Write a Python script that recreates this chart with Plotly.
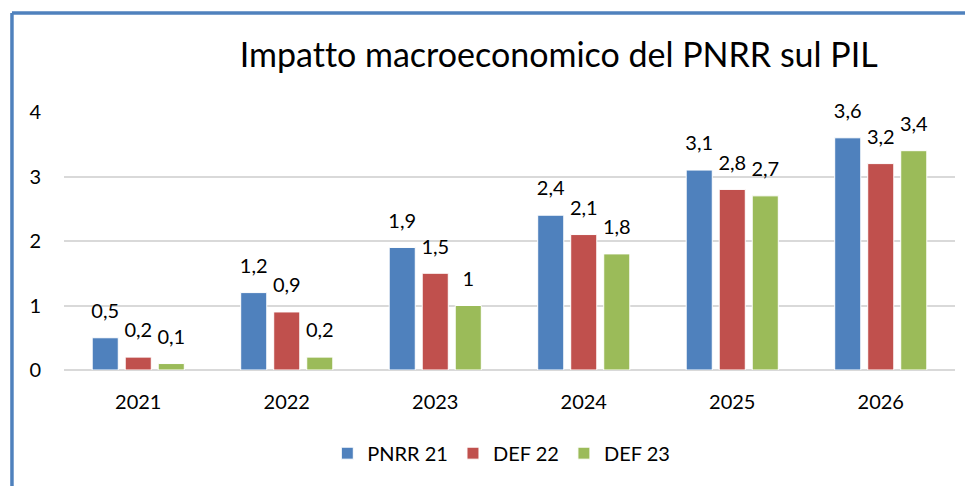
import plotly.graph_objects as go

# data
years = ["2021", "2022", "2023", "2024", "2025", "2026"]
pnrr_21 = [0.5, 1.2, 1.9, 2.4, 3.1, 3.6]
def_22 = [0.2, 0.9, 1.5, 2.1, 2.8, 3.2]
def_23 = [0.1, 0.2, 1.0, 1.8, 2.7, 3.4]
y_ticks = [0, 1, 2, 3, 4]

series = [
    ("PNRR 21", pnrr_21, "#4F81BD"),
    ("DEF 22", def_22, "#C0504D"),
    ("DEF 23", def_23, "#9BBB59"),
]

FONT = "Lato, 'Open Sans', Arial, sans-serif"
BARGAP = 0.333

fig = go.Figure()
for i, (name, vals, color) in enumerate(series):
    fig.add_trace(go.Bar(
        x=years, y=vals, name=name,
        offsetgroup=str(i), alignmentgroup="all",
        marker=dict(color=color, line=dict(color="white", width=1)),
    ))
# value labels: grouped text-only scatter so they sit a bit above the bars
for i, (name, vals, color) in enumerate(series):
    fig.add_trace(go.Scatter(
        x=years, y=vals, mode="markers+text", showlegend=False,
        offsetgroup=str(i), alignmentgroup="all",
        marker=dict(size=22, color="rgba(0,0,0,0)"),
        text=vals, texttemplate="%{y}", textposition="top center",
        textfont=dict(size=20, color="#000000"),
        cliponaxis=False, hoverinfo="skip",
    ))

# frame of the chart box (only top and left edges are visible)
frame_color = "#4F81BD"
fig.add_shape(type="line", xref="paper", yref="paper",
              x0=-0.0584, x1=1.1, y0=1.3837, y1=1.3837,
              line=dict(color=frame_color, width=3.5))
fig.add_shape(type="line", xref="paper", yref="paper",
              x0=-0.0584, x1=-0.0584, y0=1.3837, y1=-0.6,
              line=dict(color=frame_color, width=3.5))

# zero-width non-joiner keeps Lato from drawing the "tt" ligature
title_text = "Impat\u200cto macroeconomico del PNRR sul PIL"

fig.update_layout(
    width=973, height=486,
    paper_bgcolor="white", plot_bgcolor="white",
    separators=",.",
    font=dict(family=FONT, size=20, color="#000000"),
    title=dict(text=title_text,
               x=0.566, xanchor="center", xref="container",
               y=0.903, yanchor="middle",
               font=dict(size=34, family=FONT, color="#000000")),
    margin=dict(l=56, r=26, t=104, b=124),
    barmode="group", bargap=BARGAP, bargroupgap=0.21,
    scattermode="group", scattergap=BARGAP,
    showlegend=True,
    legend=dict(orientation="h", x=0.507, xanchor="center", xref="container",
                y=0.084, yanchor="middle", yref="container",
                font=dict(size=20), itemwidth=30, traceorder="normal"),
    xaxis=dict(showgrid=False, showline=False, ticks="",
               ticklabelstandoff=18, tickfont=dict(size=20)),
    yaxis=dict(range=[0, 4], tickvals=y_ticks, showgrid=True,
               gridcolor="#D9D9D9", gridwidth=1.5, zeroline=True,
               zerolinecolor="#D9D9D9", zerolinewidth=1.5,
               showline=False, ticks="", ticklabelstandoff=22,
               tickfont=dict(size=20)),
)

fig.write_html("out.html")
